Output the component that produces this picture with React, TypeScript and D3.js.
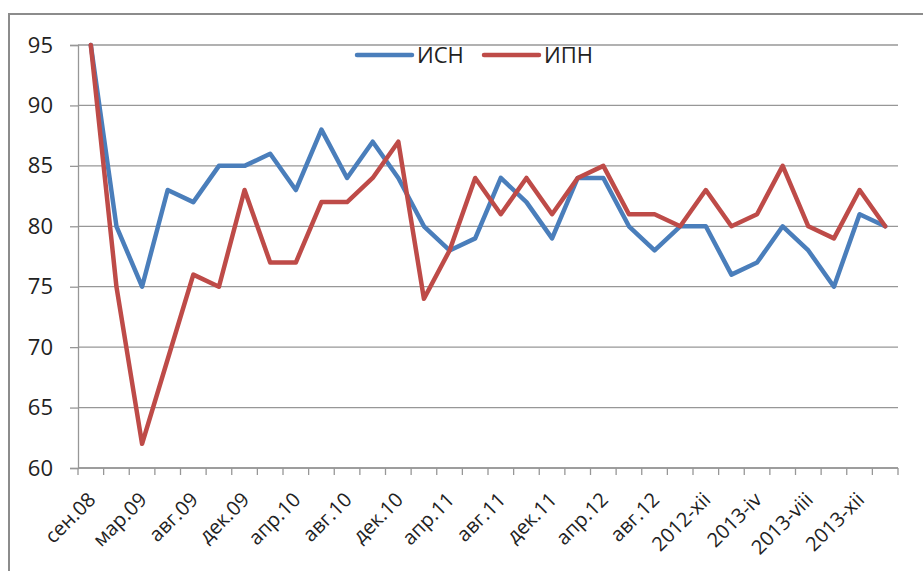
import React, { useEffect, useRef } from 'react';
import * as d3 from 'd3';

// Categories (only every other one is labelled on the axis)
const categories = [
  'сен.08', 'дек.08', 'мар.09', 'июн.09', 'авг.09', 'окт.09', 'дек.09', 'фев.10',
  'апр.10', 'июн.10', 'авг.10', 'окт.10', 'дек.10', 'фев.11', 'апр.11', 'июн.11',
  'авг.11', 'окт.11', 'дек.11', 'фев.12', 'апр.12', 'июн.12', 'авг.12', 'окт.12',
  '2012-xii', '2013-ii', '2013-iv', '2013-vi', '2013-viii', '2013-x', '2013-xii', '2014-ii',
];

const isnValues = [
  95, 80, 75, 83, 82, 85, 85, 86, 83, 88, 84, 87, 84, 80, 78, 79,
  84, 82, 79, 84, 84, 80, 78, 80, 80, 76, 77, 80, 78, 75, 81, 80,
];

const ipnValues = [
  95, 75, 62, 69, 76, 75, 83, 77, 77, 82, 82, 84, 87, 74, 78, 84,
  81, 84, 81, 84, 85, 81, 81, 80, 83, 80, 81, 85, 80, 79, 83, 80,
];

const yTicks = [60, 65, 70, 75, 80, 85, 90, 95];

const series = [
  { name: 'ИСН', values: isnValues, color: '#4A7EBB' },
  { name: 'ИПН', values: ipnValues, color: '#BE4B48' },
];

const FONT = '"Open Sans", sans-serif';

export default function App() {
  const svgRef = useRef<SVGSVGElement | null>(null);

  useEffect(() => {
    if (!svgRef.current) return;
    const W = 923;
    const H = 571;
    const margin = { top: 45, right: 25, bottom: 103, left: 78 };
    const width = W - margin.left - margin.right;
    const height = H - margin.top - margin.bottom;

    const root = d3.select(svgRef.current);
    root.selectAll('*').remove();
    root.attr('width', W).attr('height', H);

    // Chart border (right and bottom edges fall outside the picture)
    root.append('rect')
      .attr('x', 9).attr('y', 14)
      .attr('width', W + 20).attr('height', H + 20)
      .attr('fill', '#fff')
      .attr('stroke', '#8c8c8c')
      .attr('stroke-width', 2);

    const svg = root.append('g')
      .attr('transform', `translate(${margin.left},${margin.top})`);

    const x = d3.scaleBand<string>()
      .domain(categories)
      .range([0, width])
      .padding(0);

    const y = d3.scaleLinear()
      .domain([60, 95])
      .range([height, 0]);

    // Horizontal gridlines
    svg.append('g')
      .selectAll('line')
      .data(yTicks)
      .enter()
      .append('line')
      .attr('x1', 0)
      .attr('x2', width)
      .attr('y1', d => y(d))
      .attr('y2', d => y(d))
      .attr('stroke', '#979797')
      .attr('stroke-width', 1.3);

    // Y axis
    const yAxis = svg.append('g')
      .call(d3.axisLeft(y).tickValues(yTicks).tickSize(8).tickPadding(17).tickFormat(d3.format('d')));
    yAxis.select('.domain').attr('stroke', '#979797').attr('stroke-width', 1.3);
    yAxis.selectAll('.tick line').attr('stroke', '#979797').attr('stroke-width', 1.3);
    yAxis.selectAll('.tick text')
      .attr('fill', '#222')
      .attr('font-family', FONT)
      .attr('font-size', '22px');

    // X axis: tick marks at category boundaries
    const boundaries = d3.range(categories.length + 1).map(i => i * x.bandwidth());
    const xg = svg.append('g').attr('transform', `translate(0,${height})`);
    xg.append('line')
      .attr('x1', 0).attr('x2', width)
      .attr('stroke', '#979797').attr('stroke-width', 1.3);
    xg.selectAll('.xtick')
      .data(boundaries)
      .enter()
      .append('line')
      .attr('class', 'xtick')
      .attr('x1', d => d).attr('x2', d => d)
      .attr('y1', 0).attr('y2', 7)
      .attr('stroke', '#979797').attr('stroke-width', 1.3);

    xg.selectAll('.xlabel')
      .data(categories.filter((_, i) => i % 2 === 0))
      .enter()
      .append('text')
      .attr('class', 'xlabel')
      .attr('text-anchor', 'end')
      .attr('transform', d => `translate(${(x(d) as number) + x.bandwidth() / 2 + 6},33) rotate(-45)`)
      .attr('fill', '#222')
      .attr('font-family', FONT)
      .attr('font-size', '20px')
      .text(d => d);

    // Lines
    const line = d3.line<number>()
      .x((_, i) => (x(categories[i]) as number) + x.bandwidth() / 2)
      .y(d => y(d));

    series.forEach(s => {
      svg.append('path')
        .datum(s.values)
        .attr('fill', 'none')
        .attr('stroke', s.color)
        .attr('stroke-width', 4.5)
        .attr('stroke-linejoin', 'round')
        .attr('stroke-linecap', 'round')
        .attr('d', line);
    });

    // Legend
    const legendPos = [357, 484];
    series.forEach((s, i) => {
      const lg = root.append('g').attr('transform', `translate(${legendPos[i]},55)`);
      lg.append('line')
        .attr('x1', 0).attr('x2', 55)
        .attr('stroke', s.color)
        .attr('stroke-width', 4.5)
        .attr('stroke-linecap', 'round');
      lg.append('text')
        .attr('x', 60)
        .attr('dy', '0.36em')
        .attr('fill', '#222')
        .attr('font-family', FONT)
        .attr('font-size', '22px')
        .text(s.name);
    });
  }, []);

  return (
    <svg
      ref={svgRef}
      style={{ position: 'absolute', left: 0, top: 0, background: '#fff' }}
    />
  );
}
